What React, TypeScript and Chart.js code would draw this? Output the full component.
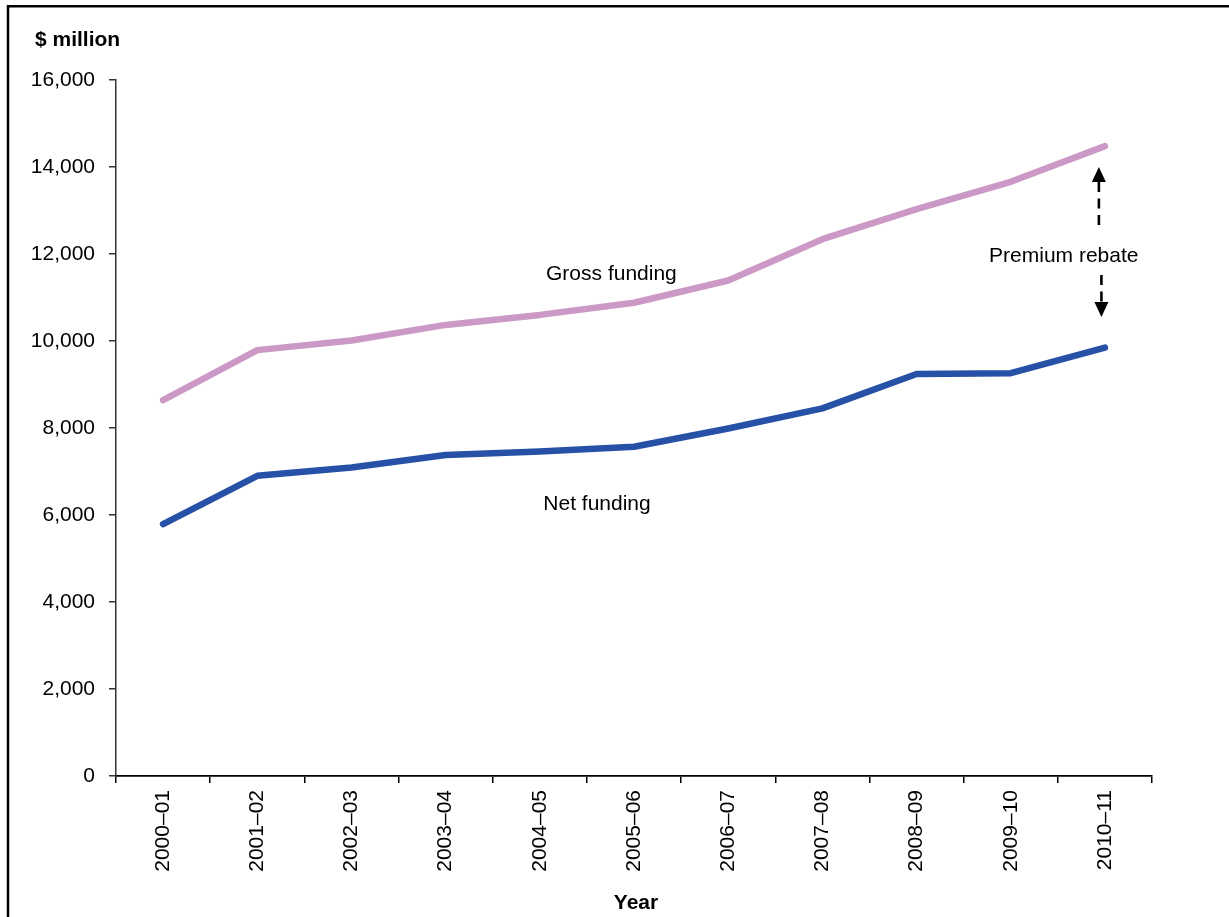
import React, { useEffect, useRef } from "react";
import { Chart, registerables } from "chart.js";

Chart.register(...registerables);

// Financial years on the horizontal axis
const years = [
  "2000–01", "2001–02", "2002–03", "2003–04", "2004–05", "2005–06",
  "2006–07", "2007–08", "2008–09", "2009–10", "2010–11",
];

// Funding in $ million
const grossFunding = [8640, 9790, 10010, 10370, 10600, 10880, 11390, 12340, 13030, 13660, 14480];
const netFunding = [5790, 6900, 7090, 7380, 7460, 7570, 7990, 8450, 9240, 9260, 9850];

// Vertical axis range
const yMin = 0;
const yMax = 16000;
const yStep = 2000;

const FONT = "'Liberation Sans', Arial, Helvetica, sans-serif";
const GROSS_COLOR = "#CC99C6";
const NET_COLOR = "#2651A6";

// Frame, titles, series labels and the rebate arrows
const decorations = {
  id: "decorations",
  beforeDraw(chart: any) {
    const { ctx, width, height } = chart;
    ctx.save();
    ctx.fillStyle = "#ffffff";
    ctx.fillRect(0, 0, width, height);
    ctx.restore();
  },
  afterDraw(chart: any) {
    const { ctx, chartArea } = chart;
    const xs = chart.scales.x;
    const ys = chart.scales.y;
    const X = (i: number) => xs.getPixelForValue(i);
    const Y = (v: number) => ys.getPixelForValue(v);

    ctx.save();
    // outer frame (top and left edges)
    ctx.strokeStyle = "#000";
    ctx.lineWidth = 2.5;
    ctx.beginPath();
    ctx.moveTo(chart.width, 6.2);
    ctx.lineTo(8, 6.2);
    ctx.lineTo(8, chart.height);
    ctx.stroke();

    ctx.fillStyle = "#000";
    ctx.textBaseline = "alphabetic";

    // axis titles
    ctx.font = `bold 21px ${FONT}`;
    ctx.textAlign = "left";
    ctx.fillText("$ million", 35, 46);
    ctx.textAlign = "center";
    ctx.fillText("Year", (chartArea.left + chartArea.right) / 2 + 2, 909);

    // series labels
    ctx.font = `21px ${FONT}`;
    ctx.textAlign = "left";
    ctx.fillText("Gross funding", X(4.066), Y(11402));
    ctx.fillText("Net funding", X(4.037), Y(6115));
    ctx.fillText("Premium rebate", X(8.77), Y(11823));

    // dashed arrows showing the rebate gap
    const arrow = (xi: number, from: number, to: number) => {
      const x = X(xi);
      const y0 = Y(from);
      const tip = Y(to);
      const dir = tip < y0 ? -1 : 1;
      const headLen = 15;
      const headHalf = 7;
      const base = tip - dir * headLen;
      ctx.strokeStyle = "#000";
      ctx.lineWidth = 2.6;
      ctx.setLineDash([10, 6.5]);
      ctx.beginPath();
      if (dir < 0) {
        ctx.lineDashOffset = 0;
        ctx.moveTo(x, base);
        ctx.lineTo(x, y0);
      } else {
        ctx.moveTo(x, y0);
        ctx.lineTo(x, base);
      }
      ctx.stroke();
      ctx.setLineDash([]);
      ctx.beginPath();
      ctx.moveTo(x, tip);
      ctx.lineTo(x - headHalf, base);
      ctx.lineTo(x + headHalf, base);
      ctx.closePath();
      ctx.fill();
    };
    arrow(9.936, 12621, 14000);
    arrow(9.963, 11517, 10552);

    ctx.restore();
  },
};

export default function App() {
  const canvasRef = useRef<HTMLCanvasElement | null>(null);

  useEffect(() => {
    document.body.style.margin = "0";
    const canvas = canvasRef.current;
    if (!canvas) return;

    const chart = new Chart(canvas, {
      type: "line",
      data: {
        labels: years,
        datasets: [
          {
            label: "Gross funding",
            data: grossFunding,
            borderColor: GROSS_COLOR,
            backgroundColor: GROSS_COLOR,
            borderWidth: 6.5,
            borderCapStyle: "round",
            borderJoinStyle: "round",
            pointRadius: 0,
            tension: 0,
          },
          {
            label: "Net funding",
            data: netFunding,
            borderColor: NET_COLOR,
            backgroundColor: NET_COLOR,
            borderWidth: 6.5,
            borderCapStyle: "round",
            borderJoinStyle: "round",
            pointRadius: 0,
            tension: 0,
          },
        ],
      },
      options: {
        responsive: false,
        animation: false,
        devicePixelRatio: 1,
        layout: { padding: { left: 0, top: 80, right: 77, bottom: 0 } },
        plugins: {
          legend: { display: false },
          tooltip: { enabled: false },
          title: { display: false },
        },
        scales: {
          x: {
            type: "category",
            offset: true,
            grid: {
              offset: true,
              drawOnChartArea: false,
              drawTicks: true,
              tickLength: 7,
              color: "#000",
              lineWidth: 1.5,
            },
            border: { display: true, color: "#000", width: 1.8 },
            ticks: {
              minRotation: 90,
              maxRotation: 90,
              autoSkip: false,
              padding: 7,
              color: "#000",
              font: { family: FONT, size: 21 },
            },
            afterFit: (scale: any) => {
              scale.height = 141;
            },
          },
          y: {
            min: yMin,
            max: yMax,
            grid: {
              drawOnChartArea: false,
              drawTicks: true,
              tickLength: 7,
              color: "#333",
              lineWidth: 1.5,
            },
            border: { display: true, color: "#333", width: 1.5 },
            ticks: {
              stepSize: yStep,
              padding: 14,
              color: "#000",
              font: { family: FONT, size: 21 },
              callback: (v: any) => Number(v).toLocaleString("en-US"),
            },
            afterFit: (scale: any) => {
              scale.width = 116;
            },
          },
        },
      },
      plugins: [decorations],
    });

    return () => chart.destroy();
  }, []);

  return (
    <div style={{ position: "absolute", left: 0, top: 0, width: 1229, height: 917 }}>
      <canvas ref={canvasRef} width={1229} height={917} style={{ display: "block" }} />
    </div>
  );
}
